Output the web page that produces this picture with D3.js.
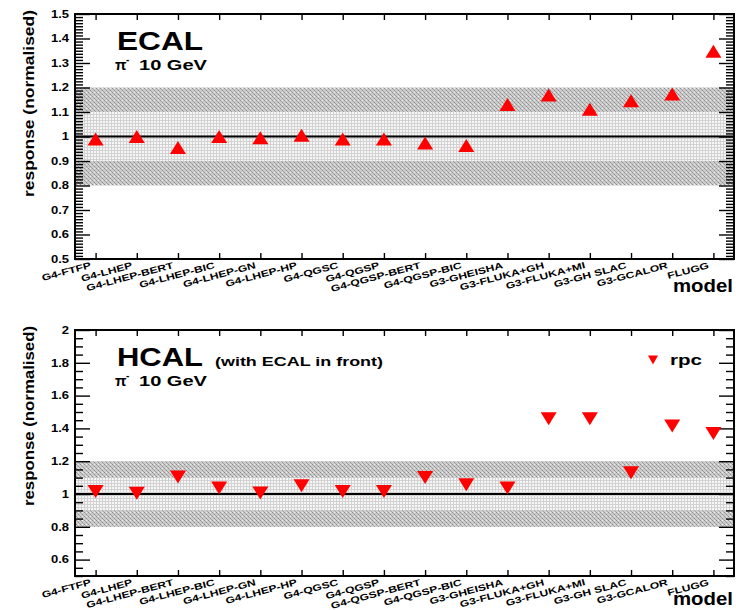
<!DOCTYPE html>
<html>
<head>
<meta charset="utf-8">
<script src="https://cdn.jsdelivr.net/npm/d3@7"></script>
<style>
  body { margin: 0; background: #fff; }
  text { font-family: "Liberation Sans", Arial, Helvetica, sans-serif; font-weight: bold; fill: #000; }
</style>
</head>
<body>
<svg id="chart" width="736" height="610"></svg>
<script>
// Physics lists compared on the x axis
const models = ["G4-FTFP", "G4-LHEP", "G4-LHEP-BERT", "G4-LHEP-BIC", "G4-LHEP-GN", "G4-LHEP-HP",
  "G4-QGSC", "G4-QGSP", "G4-QGSP-BERT", "G4-QGSP-BIC", "G3-GHEISHA", "G3-FLUKA+GH",
  "G3-FLUKA+MI", "G3-GH SLAC", "G3-GCALOR", "FLUGG"];

// Normalised response, pi- at 10 GeV
const ecalResponse = [0.99, 1.00, 0.955, 1.00, 0.995, 1.005, 0.99, 0.99, 0.973, 0.963,
  1.131, 1.169, 1.111, 1.146, 1.173, 1.348];
const hcalResponse = [1.016, 1.004, 1.104, 1.037, 1.006, 1.05, 1.016, 1.016, 1.10, 1.057,
  1.037, 1.459, 1.459, 1.13, 1.415, 1.369];

// Labelled y ticks of each panel
const ecalTicks = [0.5, 0.6, 0.7, 0.8, 0.9, 1.0, 1.1, 1.2, 1.3, 1.4, 1.5];
const hcalTicks = [0.6, 0.8, 1.0, 1.2, 1.4, 1.6, 1.8, 2.0];

// Tolerance bands around unity
const outerBand = [0.8, 1.2];
const innerBand = [0.9, 1.1];
const reference = 1.0;

const legendLabel = "rpc";

const svg = d3.select("#chart");
const plotLeft = 75, plotRight = 734;

// Stretch a text element horizontally to a target width or by a factor
function stretchTo(sel, width) {
  sel.attr("textLength", width).attr("lengthAdjust", "spacingAndGlyphs");
}
function stretchBy(sel, k) {
  sel.each(function () {
    const w = this.getComputedTextLength();
    this.setAttribute("textLength", w * k);
    this.setAttribute("lengthAdjust", "spacingAndGlyphs");
  });
}

// Fill patterns for the bands
const defs = svg.append("defs");
const dark = defs.append("pattern").attr("id", "bandDark").attr("patternUnits", "userSpaceOnUse")
  .attr("width", 4).attr("height", 4);
dark.append("rect").attr("width", 4).attr("height", 4).attr("fill", "#cbcbcb");
dark.append("rect").attr("x", 0).attr("y", 0).attr("width", 1).attr("height", 1).attr("fill", "#8e8e8e");
dark.append("rect").attr("x", 2).attr("y", 2).attr("width", 1).attr("height", 1).attr("fill", "#8e8e8e");
dark.append("rect").attr("x", 1).attr("y", 1).attr("width", 1).attr("height", 1).attr("fill", "#a8a8a8");
dark.append("rect").attr("x", 3).attr("y", 3).attr("width", 1).attr("height", 1).attr("fill", "#a8a8a8");
dark.append("rect").attr("x", 2).attr("y", 0).attr("width", 1).attr("height", 1).attr("fill", "#ececec");

const light = defs.append("pattern").attr("id", "bandLight").attr("patternUnits", "userSpaceOnUse")
  .attr("width", 3).attr("height", 3);
light.append("rect").attr("width", 3).attr("height", 3).attr("fill", "#f6f6f6");
light.append("rect").attr("x", 0).attr("y", 0).attr("width", 3).attr("height", 1).attr("fill", "#d2d2d2");
light.append("rect").attr("x", 0).attr("y", 0).attr("width", 1).attr("height", 3).attr("fill", "#d2d2d2");

function trianglePath(w, h, up) {
  return up
    ? `M0,${-h / 2}L${w / 2},${h / 2}L${-w / 2},${h / 2}Z`
    : `M${-w / 2},${-h / 2}L${w / 2},${-h / 2}L0,${h / 2}Z`;
}

function drawPanel(cfg) {
  const g = svg.append("g");
  const x = d3.scaleLinear().domain([-0.5, models.length - 0.5]).range([plotLeft, plotRight]);
  const y = d3.scaleLinear().domain(cfg.domain).range([cfg.bottom, cfg.top]);

  // bands
  g.append("rect").attr("x", plotLeft).attr("width", plotRight - plotLeft)
    .attr("y", y(outerBand[1])).attr("height", y(outerBand[0]) - y(outerBand[1]))
    .attr("fill", "url(#bandDark)");
  g.append("rect").attr("x", plotLeft).attr("width", plotRight - plotLeft)
    .attr("y", y(innerBand[1])).attr("height", y(innerBand[0]) - y(innerBand[1]))
    .attr("fill", "url(#bandLight)");

  // reference line
  g.append("line").attr("x1", plotLeft).attr("x2", plotRight)
    .attr("y1", y(reference)).attr("y2", y(reference))
    .attr("stroke", "#000").attr("stroke-width", 2);

  const fmt = d => String(+d.toFixed(2));
  const minors = d3.range(cfg.domain[0], cfg.domain[1] + 1e-9, cfg.minorStep)
    .filter(v => !cfg.majors.some(m => Math.abs(m - v) < 1e-6));

  const styleAxis = sel => {
    sel.select(".domain").remove();
    sel.selectAll(".tick line").attr("stroke", "#000").attr("stroke-width", 1.4);
  };

  // left axis: labelled majors + minors, ticks pointing inward
  const left = g.append("g").attr("transform", `translate(${plotLeft},0)`)
    .call(d3.axisLeft(y).tickValues(cfg.majors).tickSizeInner(-15).tickSizeOuter(0)
      .tickPadding(6).tickFormat(fmt));
  styleAxis(left);
  left.selectAll(".tick text").attr("font-size", 10).attr("font-family", null).attr("fill", "#000")
    .call(stretchBy, 1.3);
  const leftMinor = g.append("g").attr("transform", `translate(${plotLeft},0)`)
    .call(d3.axisLeft(y).tickValues(minors).tickSizeInner(-8).tickSizeOuter(0).tickFormat(""));
  styleAxis(leftMinor);

  // right axis mirror
  const right = g.append("g").attr("transform", `translate(${plotRight},0)`)
    .call(d3.axisRight(y).tickValues(cfg.majors).tickSizeInner(-15).tickSizeOuter(0).tickFormat(""));
  styleAxis(right);
  const rightMinor = g.append("g").attr("transform", `translate(${plotRight},0)`)
    .call(d3.axisRight(y).tickValues(minors).tickSizeInner(-8).tickSizeOuter(0).tickFormat(""));
  styleAxis(rightMinor);

  // x ticks on bottom and top
  const idx = d3.range(models.length);
  const bottomAx = g.append("g").attr("transform", `translate(0,${cfg.bottom})`)
    .call(d3.axisBottom(x).tickValues(idx).tickSizeInner(-6).tickSizeOuter(0).tickFormat(""));
  styleAxis(bottomAx);
  const topAx = g.append("g").attr("transform", `translate(0,${cfg.top})`)
    .call(d3.axisTop(x).tickValues(idx).tickSizeInner(-6).tickSizeOuter(0).tickFormat(""));
  styleAxis(topAx);

  // model names, slanted
  g.selectAll("text.model").data(models).join("text")
    .attr("class", "model")
    .attr("text-anchor", "end")
    .attr("font-size", 9)
    .attr("transform", (d, i) => `translate(${x(i) - 4},${cfg.bottom + 9}) rotate(-15)`)
    .text(d => d)
    .call(stretchBy, 1.35);

  // frame
  g.append("rect").attr("x", plotLeft).attr("y", cfg.top)
    .attr("width", plotRight - plotLeft).attr("height", cfg.bottom - cfg.top)
    .attr("fill", "none").attr("stroke", "#000").attr("stroke-width", 2);

  // markers
  g.selectAll("path.pt").data(cfg.values).join("path")
    .attr("class", "pt")
    .attr("transform", (d, i) => `translate(${x(i)},${y(d)})`)
    .attr("d", trianglePath(16, 13, cfg.up))
    .attr("fill", "#ff0000");

  // y title
  g.append("text")
    .attr("transform", `translate(34,${cfg.top - 4}) rotate(-90)`)
    .attr("text-anchor", "end")
    .attr("font-size", 15)
    .text("response (normalised)")
    .call(stretchTo, cfg.titleLen);

  // x title
  g.append("text")
    .attr("x", 733).attr("y", cfg.bottom + cfg.modelDy)
    .attr("text-anchor", "end")
    .attr("font-size", 18)
    .text("model")
    .call(stretchTo, 60);

  // detector label
  g.append("text").attr("x", 117).attr("y", cfg.top + 36)
    .attr("font-size", 25).text(cfg.name).call(stretchTo, 86);
  if (cfg.note) {
    g.append("text").attr("x", 215).attr("y", cfg.top + 36)
      .attr("font-size", 13).text(cfg.note).call(stretchTo, 168);
  }
  // beam label
  g.append("text").attr("x", 115).attr("y", cfg.top + 56)
    .attr("font-size", 15).attr("font-weight", "normal").attr("font-family", "DejaVu Serif, serif")
    .text("π");
  g.append("text").attr("x", 126).attr("y", cfg.top + 49)
    .attr("font-size", 10).text("-");
  g.append("text").attr("x", 139).attr("y", cfg.top + 56)
    .attr("font-size", 14).text("10 GeV").call(stretchTo, 68);

  return { g, x, y };
}

drawPanel({ name: "ECAL", values: ecalResponse, up: true, top: 14, bottom: 259,
  domain: [0.5, 1.5], majors: ecalTicks, minorStep: 0.0125, titleLen: 187, modelDy: 33 });

drawPanel({ name: "HCAL", note: "(with ECAL in front)", values: hcalResponse, up: false,
  top: 330, bottom: 576, domain: [0.5, 2.0], majors: hcalTicks, minorStep: 0.05, titleLen: 180, modelDy: 29 });

// legend
const lg = svg.append("g").attr("transform", "translate(653,360)");
lg.append("path").attr("d", trianglePath(10, 9, false)).attr("fill", "#ff0000");
lg.append("text").attr("x", 17).attr("y", 5).attr("font-size", 15).text(legendLabel).call(stretchTo, 32);
</script>
</body>
</html>
